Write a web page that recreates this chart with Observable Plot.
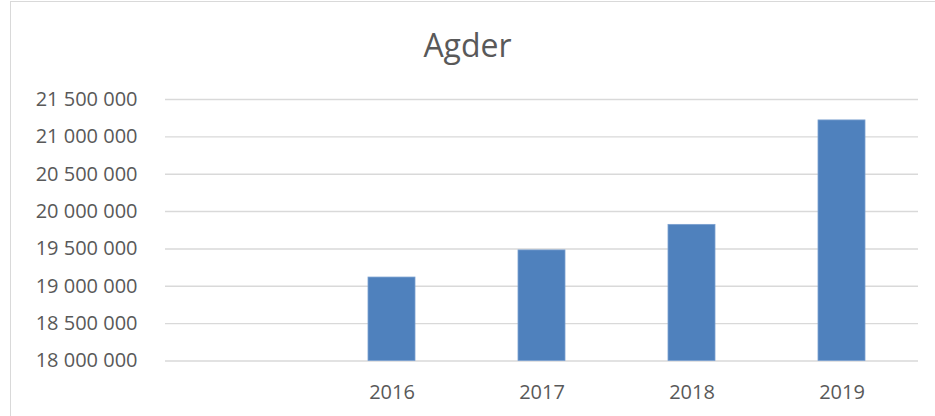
<!DOCTYPE html>
<html>
<head>
<meta charset="utf-8">
<script src="https://cdn.jsdelivr.net/npm/d3@7"></script>
<script src="https://cdn.jsdelivr.net/npm/@observablehq/plot@0.6"></script>
<style>
  html, body { margin: 0; padding: 0; background: #fff; }
  #wrap { position: relative; width: 935px; height: 416px; overflow: hidden; font-family: "Open Sans", sans-serif; }
  #frame { position: absolute; left: 10px; top: 1px; width: 940px; height: 430px; border-left: 1.5px solid #d9d9d9; border-top: 1.5px solid #d9d9d9; }
  #title { position: absolute; left: 0; top: 0; width: 935px; height: 70px; text-align: center; font-size: 32px; line-height: 32px; padding-top: 29px; box-sizing: border-box; color: #595959; }
  #chart { position: absolute; left: 0; top: 70px; }
</style>
</head>
<body>
<div id="wrap">
  <div id="frame"></div>
  <div id="title">Agder</div>
  <div id="chart"></div>
</div>
<script>
const title = "Agder";
const slots = ["", "2016", "2017", "2018", "2019"];
const years = ["2016", "2017", "2018", "2019"];
const values = [19117000, 19480000, 19822000, 21220000];
const yTicks = [18000000, 18500000, 19000000, 19500000, 20000000, 20500000, 21000000, 21500000];

const data = years.map((y, i) => ({year: y, value: values[i]}));
const fmt = d3.formatLocale({thousands: " ", grouping: [3], decimal: ",", currency: ["", ""]}).format(",");

document.getElementById("title").textContent = title;

const chart = Plot.plot({
  width: 935,
  height: 346,
  marginLeft: 165,
  marginRight: 17,
  marginTop: 29,
  marginBottom: 55.5,
  style: {fontFamily: "Open Sans, sans-serif", fontSize: "20px", color: "#595959", background: "transparent"},
  x: {domain: slots, paddingInner: 0.69, paddingOuter: 0.345, label: null},
  y: {domain: [18000000, 21500000], label: null},
  marks: [
    Plot.ruleY(yTicks, {stroke: "#d9d9d9", strokeWidth: 1.4}),
    Plot.barY(data, {x: "year", y1: 18000000, y2: "value", fill: "#4f81bd", stroke: "#7ba0d0", strokeWidth: 0.8}),
    Plot.axisY(yTicks, {tickSize: 0, tickPadding: 28, tickFormat: fmt, label: null, fill: "#595959", fontSize: 20}),
    Plot.axisX({tickSize: 0, tickPadding: 24, label: null, fill: "#595959", fontSize: 20})
  ]
});
document.getElementById("chart").appendChild(chart);
</script>
</body>
</html>
